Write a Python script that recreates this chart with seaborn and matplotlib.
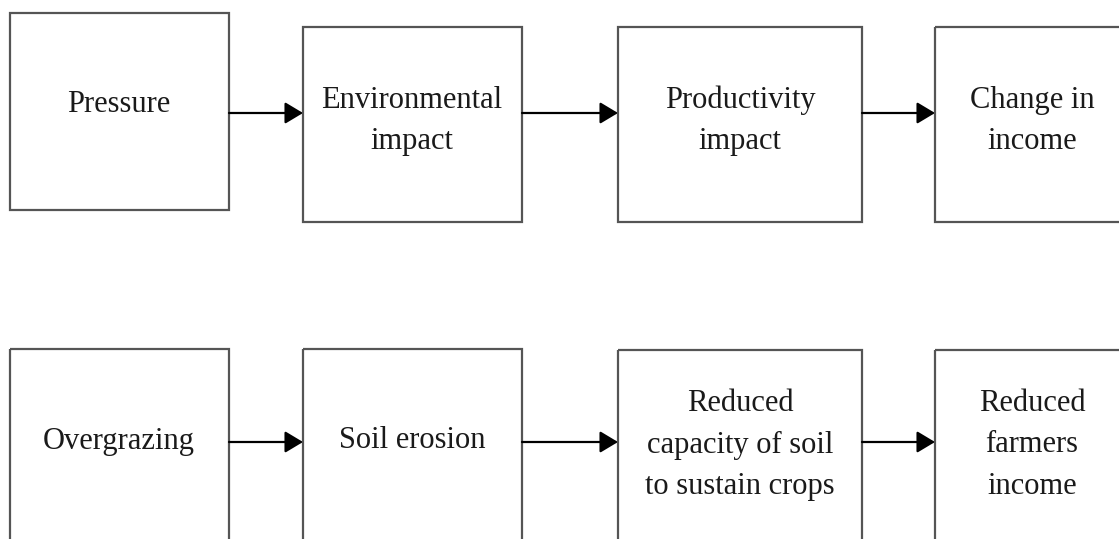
import matplotlib
matplotlib.use("Agg")
import matplotlib.pyplot as plt
from matplotlib.patches import Rectangle
import seaborn as sns

sns.set_theme(style="white")
plt.rcParams['font.family'] = ['Liberation Serif', 'DejaVu Serif']

# Box geometry (pixel units of the 1119x539 canvas)
box_left = [10, 303, 618, 935]
box_right = [229, 522, 862, 1130]
row1_top = [13, 27, 27, 27]
row1_bottom = [210, 222, 222, 222]
row2_top = [349, 349, 350, 350]
row2_bottom = [560, 560, 560, 560]

row1_labels = ["Pressure", "Environmental\nimpact", "Productivity\nimpact", "Change in\nincome"]
row2_labels = ["Overgrazing", "Soil erosion", "Reduced\ncapacity of soil\nto sustain crops", "Reduced\nfarmers\nincome"]
row1_text_x = [119, 412, 740, 1032]
row1_text_y = [104, 121, 121, 121]
row2_text_x = [119, 412, 740, 1032]
row2_text_y = [441, 441, 445, 445]
arrow_y = [113, 442]

fig = plt.figure(figsize=(11.19, 5.39), dpi=100)
ax = fig.add_axes([0, 0, 1, 1])
ax.set_xlim(0, 1119)
ax.set_ylim(539, 0)
ax.axis('off')

edge = '#555555'
for tops, bottoms, labels, tx, ty in [
    (row1_top, row1_bottom, row1_labels, row1_text_x, row1_text_y),
    (row2_top, row2_bottom, row2_labels, row2_text_x, row2_text_y),
]:
    for l, r, t, b, lab, x, y in zip(box_left, box_right, tops, bottoms, labels, tx, ty):
        ax.add_patch(Rectangle((l, t), r - l, b - t, fill=False, edgecolor=edge, lw=1.6))
        ax.text(x, y, lab, ha='center', va='center', fontsize=22, color='#1a1a1a',
                linespacing=1.55)

for y in arrow_y:
    for i in range(3):
        ax.annotate('', xy=(box_left[i + 1], y), xytext=(box_right[i], y),
                    arrowprops=dict(arrowstyle='-|>,head_length=0.55,head_width=0.33',
                                    mutation_scale=20, shrinkA=0, shrinkB=0,
                                    lw=1.6, color='black'))

fig.savefig('out.png', dpi=100, facecolor='white')
